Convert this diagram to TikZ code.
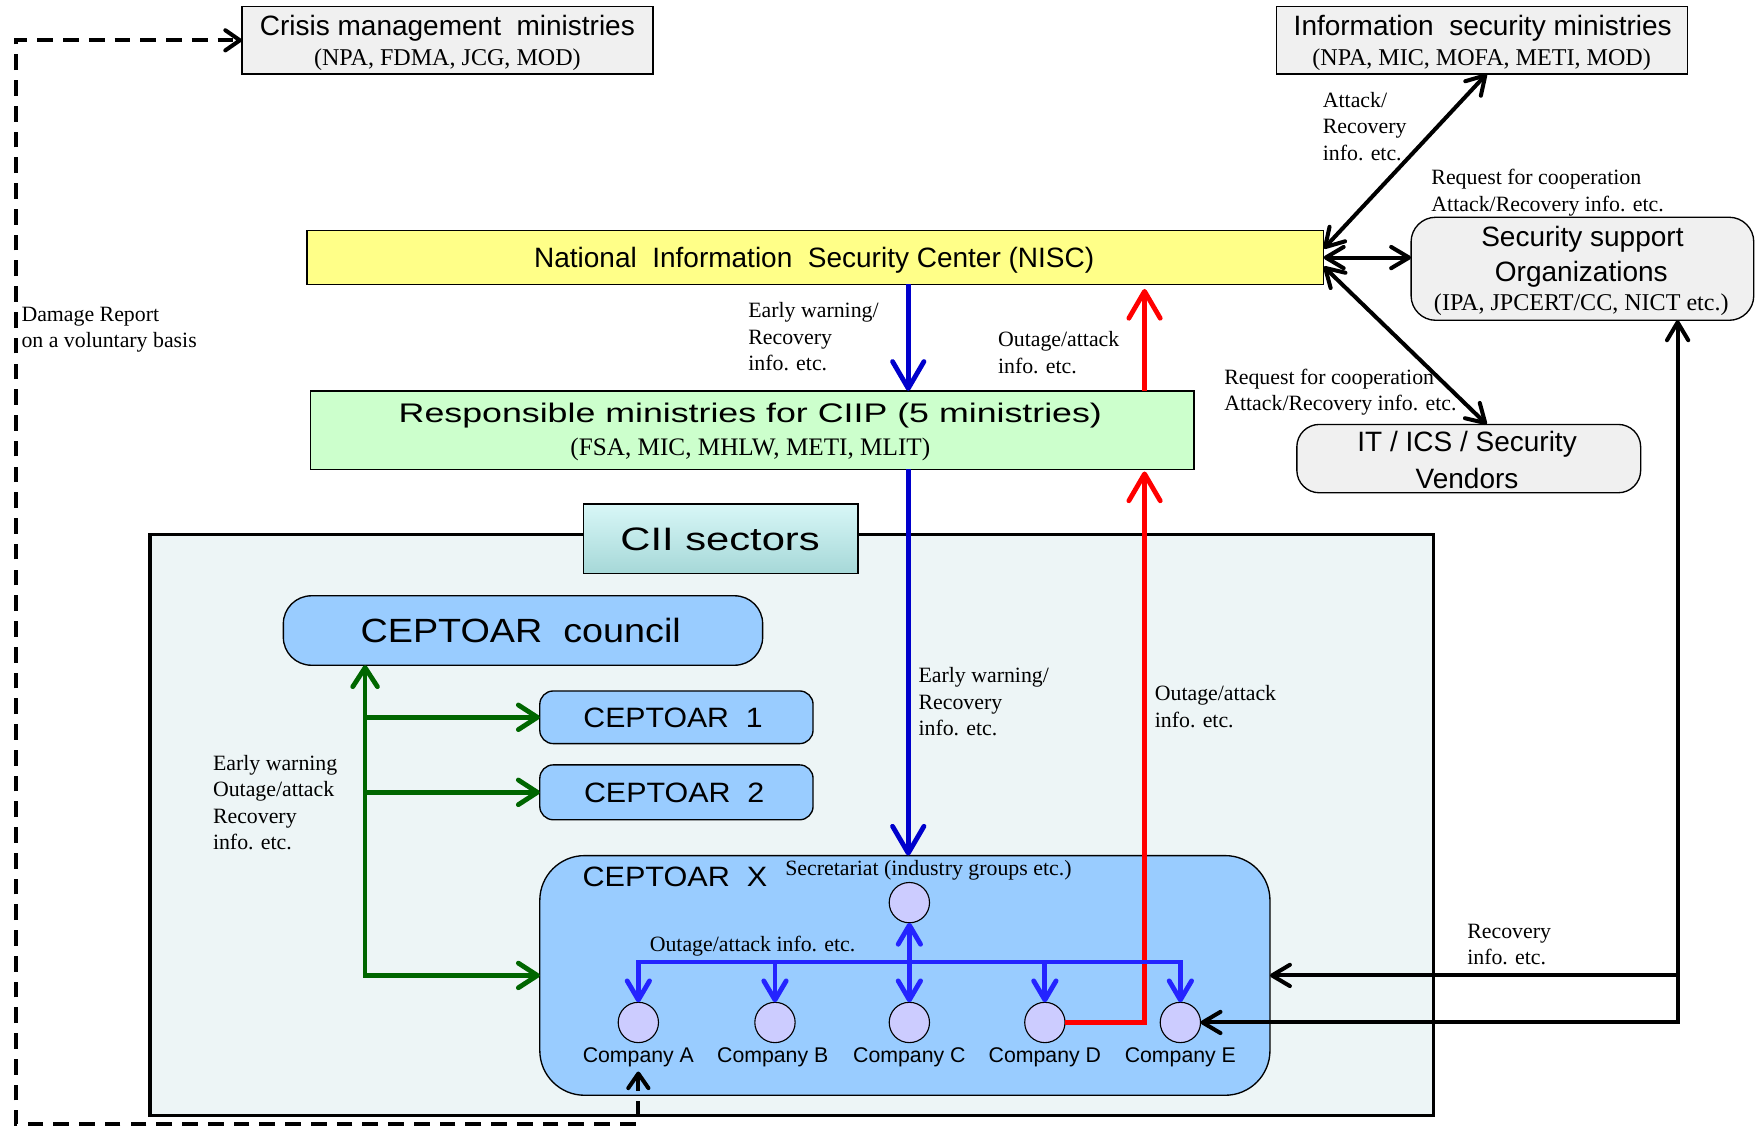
\documentclass[tikz,border=0pt]{standalone}
\usepackage{fontspec}
\usepackage{graphicx}
\setmainfont{Liberation Serif}
\setsansfont{Liberation Sans}
\usetikzlibrary{arrows.meta,calc}
\definecolor{boxgray}{HTML}{F0F0F0}
\definecolor{niscY}{HTML}{FFFF88}
\definecolor{respG}{HTML}{CCFFCC}
\definecolor{ciiBg}{HTML}{EDF5F6}
\definecolor{ceptB}{HTML}{99CCFF}
\definecolor{compC}{HTML}{CCCCFF}
\definecolor{darkB}{HTML}{0000CC}
\definecolor{busB}{HTML}{2424FF}
\definecolor{arrR}{HTML}{FF0000}
\definecolor{arrG}{HTML}{006600}
\definecolor{ciiTop}{HTML}{D8F7F7}
\definecolor{ciiBot}{HTML}{A6D8D8}
\newcommand{\fTitle}{\sffamily\fontsize{25}{30}\selectfont}
\newcommand{\fSub}{\rmfamily\fontsize{21.5}{26}\selectfont}
\newcommand{\fLbl}{\rmfamily\fontsize{19.5}{23.7}\selectfont}
\newcommand{\fComp}{\sffamily\fontsize{19}{23}\selectfont}
\newcommand{\fWide}[1]{\sffamily\fontsize{#1}{#1}\selectfont}
\newcommand{\stretchto}[2]{\resizebox{#1}{\height}{#2}}
\begin{document}
\begin{tikzpicture}[x=1pt,y=-1pt,
  box/.style={draw=black, line width=1.2pt, inner sep=0pt, outer sep=0pt},
  circ/.style={circle, draw=black, line width=1pt, fill=compC, minimum size=36pt, inner sep=0pt, outer sep=0pt},
  lbl/.style={font=\fLbl, align=left, anchor=north west, inner sep=0pt},
  txt/.style={inner sep=0pt},
  bigtip/.tip={Straight Barb[length=24pt,width=28pt,round]},
  grntip/.tip={Straight Barb[length=17pt,width=22pt,round]},
  bustip/.tip={Straight Barb[length=17pt,width=20pt,round]},
  blktip/.tip={Straight Barb[length=16pt,width=19pt,round]},
  dshtip/.tip={Straight Barb[length=13pt,width=18pt,round]},
  darkArr/.style={draw=darkB, line width=4.3pt, -bigtip},
  redArr/.style={draw=arrR, line width=4.3pt, line join=miter, -bigtip},
  grnArr/.style={draw=arrG, line width=4.3pt, grntip-grntip},
  grnArr1/.style={draw=arrG, line width=4.3pt, -grntip},
  busArr/.style={draw=busB, line width=4.3pt, -bustip},
  busArr2/.style={draw=busB, line width=4.3pt, bustip-bustip},
  blkArr/.style={draw=black, line width=3.6pt, -blktip},
  blkArr2/.style={draw=black, line width=3.6pt, blktip-blktip},
  dashArr2/.style={draw=black, line width=3.6pt, dash pattern=on 14pt off 9pt, dshtip-dshtip}
]
\useasboundingbox (0,0) rectangle (1568,1008);

% background CII sectors box
\node[box, line width=3pt, fill=ciiBg, minimum width=1146pt, minimum height=519pt] (cii) at (707,736.5) {};
\node[box, top color=ciiTop, bottom color=ciiBot, minimum width=245pt, minimum height=62pt] (ciilab) at (643.5,481) {};
\node[txt, font={\fWide{29}}] (ciiT) at (643,482) {\stretchto{178pt}{CII sectors}};

% top boxes
\node[box, fill=boxgray, minimum width=367pt, minimum height=60pt] (crisis) at (399.5,36) {};
\node[txt, font=\fTitle] (crisisT) at (399.5,25) {Crisis management\ \ ministries};
\node[txt, font=\fSub] (crisisS) at (399.5,53) {(NPA, FDMA, JCG, MOD)};

\node[box, fill=boxgray, minimum width=367pt, minimum height=60pt] (info) at (1323.5,36) {};
\node[txt, font=\fTitle] (infoT) at (1324,25) {Information\ \ security ministries};
\node[txt, font=\fSub] (infoS) at (1323,53) {(NPA, MIC, MOFA, METI, MOD)};

\node[box, fill=niscY, minimum width=908pt, minimum height=48pt] (nisc) at (728,230) {};
\node[txt, font=\fTitle] (niscT) at (727,232) {National\ \ Information\ \ Security Center (NISC)};

\node[box, fill=boxgray, rounded corners=22pt, minimum width=306pt, minimum height=92pt] (secsup) at (1413,240) {};
\node[txt, font=\fTitle] (secsupT1) at (1413,214) {Security support};
\node[txt, font=\fTitle] (secsupT2) at (1412,245) {Organizations};
\node[txt, font=\fSub] (secsupS) at (1412,272) {(IPA, JPCERT/CC, NICT etc.)};

\node[box, fill=boxgray, rounded corners=20pt, minimum width=307pt, minimum height=61pt] (vendors) at (1311.5,409.5) {};
\node[txt, font=\fTitle] (vendorsT1) at (1310,397) {IT / ICS / Security};
\node[txt, font=\fTitle] (vendorsT2) at (1310,427) {Vendors};

\node[box, fill=respG, minimum width=789pt, minimum height=70pt] (resp) at (671.5,384) {};
\node[txt, font={\fWide{24}}] (respT) at (670,371) {\stretchto{628pt}{Responsible ministries for CIIP (5 ministries)}};
\node[txt, font={\rmfamily\fontsize{22.5}{26}\selectfont}] (respS) at (670,401) {(FSA, MIC, MHLW, METI, MLIT)};

% CEPTOAR boxes
\node[box, fill=ceptB, rounded corners=25pt, minimum width=428pt, minimum height=62pt] (council) at (467,563) {};
\node[txt, font={\fWide{30}}] (councilT) at (465,563) {\stretchto{286pt}{CEPTOAR\ \ council}};
\node[box, fill=ceptB, rounded corners=12pt, minimum width=244pt, minimum height=47pt] (c1) at (604,640.5) {};
\node[txt, font={\fWide{25}}] (c1T) at (601,641) {\stretchto{160pt}{CEPTOAR\ \ 1}};
\node[box, fill=ceptB, rounded corners=12pt, minimum width=244pt, minimum height=49pt] (c2) at (604,707.5) {};
\node[txt, font={\fWide{25}}] (c2T) at (602,708) {\stretchto{161pt}{CEPTOAR\ \ 2}};
\node[box, fill=ceptB, rounded corners=40pt, minimum width=652pt, minimum height=214pt] (cx) at (808,871) {};
\node[txt, font={\fWide{25}}, anchor=west] (cxT) at (520,783) {\stretchto{165pt}{CEPTOAR\ \ X}};
\node[txt, font=\fLbl, anchor=west] (secT) at (701,777) {Secretariat (industry groups etc.)};

% circles
\node[circ] (sec) at (812,806) {};
\node[circ] (A) at (570,913) {};
\node[circ] (B) at (692,913) {};
\node[circ] (C) at (812,913) {};
\node[circ] (D) at (933,913) {};
\node[circ] (E) at (1054,913) {};
\node[txt, font=\fComp] (lblA) at (570,944) {Company A};
\node[txt, font=\fComp] (lblB) at (690,944) {Company B};
\node[txt, font=\fComp] (lblC) at (812,944) {Company C};
\node[txt, font=\fComp] (lblD) at (933,944) {Company D};
\node[txt, font=\fComp] (lblE) at (1054,944) {Company E};

% labels
\node[lbl] (lDamage) at (19,274) {Damage Report\\on a voluntary basis};
\node[lbl] (lEW1) at (668,270) {Early warning/\\Recovery\\info. etc.};
\node[lbl] (lOA1) at (891,296) {Outage/attack\\info. etc.};
\node[lbl] (lAR) at (1181,82) {Attack/\\Recovery\\info. etc.};
\node[lbl] (lReq1) at (1278,151) {Request for cooperation\\Attack/Recovery info. etc.};
\node[lbl] (lReq2) at (1093,329) {Request for cooperation\\Attack/Recovery info. etc.};
\node[lbl] (lEW2) at (820,596) {Early warning/\\Recovery\\info. etc.};
\node[lbl] (lOA2) at (1031,612) {Outage/attack\\info. etc.};
\node[lbl] (lGreen) at (190,674) {Early warning\\Outage/attack\\Recovery\\info. etc.};
\node[lbl] (lRec) at (1310,825) {Recovery\\info. etc.};
\node[lbl] (lBus) at (580,836) {Outage/attack info. etc.};

% helper coordinates
\coordinate (xb) at (811,0);
\coordinate (xr) at (1022,0);
\coordinate (busy) at (0,859);
\coordinate (gc) at (326,871);
\coordinate (bc) at (1498,913);
\coordinate (dbl) at (14,1004);
\coordinate (dtl) at (14,36);

% blue / red vertical flows
\draw[darkArr] (nisc.south -| xb) -- (resp.north -| xb);
\draw[darkArr] (resp.south -| xb) -- (cx.north -| xb);
\draw[redArr] (resp.north -| xr) -- ([yshift=-4pt]nisc.south -| xr);
\draw[redArr] (D.east) -- (D.east -| xr) -- ([yshift=-2pt]resp.south -| xr);

% bus inside CEPTOAR X
\draw[busArr2] (A.north) -- (A |- busy) -- (E |- busy) -- (E.north);
\draw[busArr] (B |- busy) -- (B.north);
\draw[busArr] (D |- busy) -- (D.north);
\draw[busArr2] (sec.south) -- (C.north);

% green
\draw[grnArr] (cx.west) -- (gc) -- (council.south -| gc);
\draw[grnArr1] (gc |- c1.west) -- (c1.west);
\draw[grnArr1] (gc |- c2.west) -- (c2.west);

% black
\draw[blkArr2] ([yshift=8pt]nisc.east) -- ([xshift=4pt]info.south);
\draw[blkArr2] (nisc.east) -- (secsup.west |- nisc.east);
\draw[blkArr2] ([yshift=-8pt]nisc.east) -- ([xshift=16pt]vendors.north);
\draw[blkArr2] (E.east) -- (bc) -- (secsup.south -| bc);
\draw[blkArr] (bc |- cx.east) -- (cx.east);

% dashed damage report
\draw[dashArr2] ([yshift=-4pt]lblA.south) |- (dbl) -- (dtl) -- (crisis.west |- dtl);
\end{tikzpicture}
\end{document}
